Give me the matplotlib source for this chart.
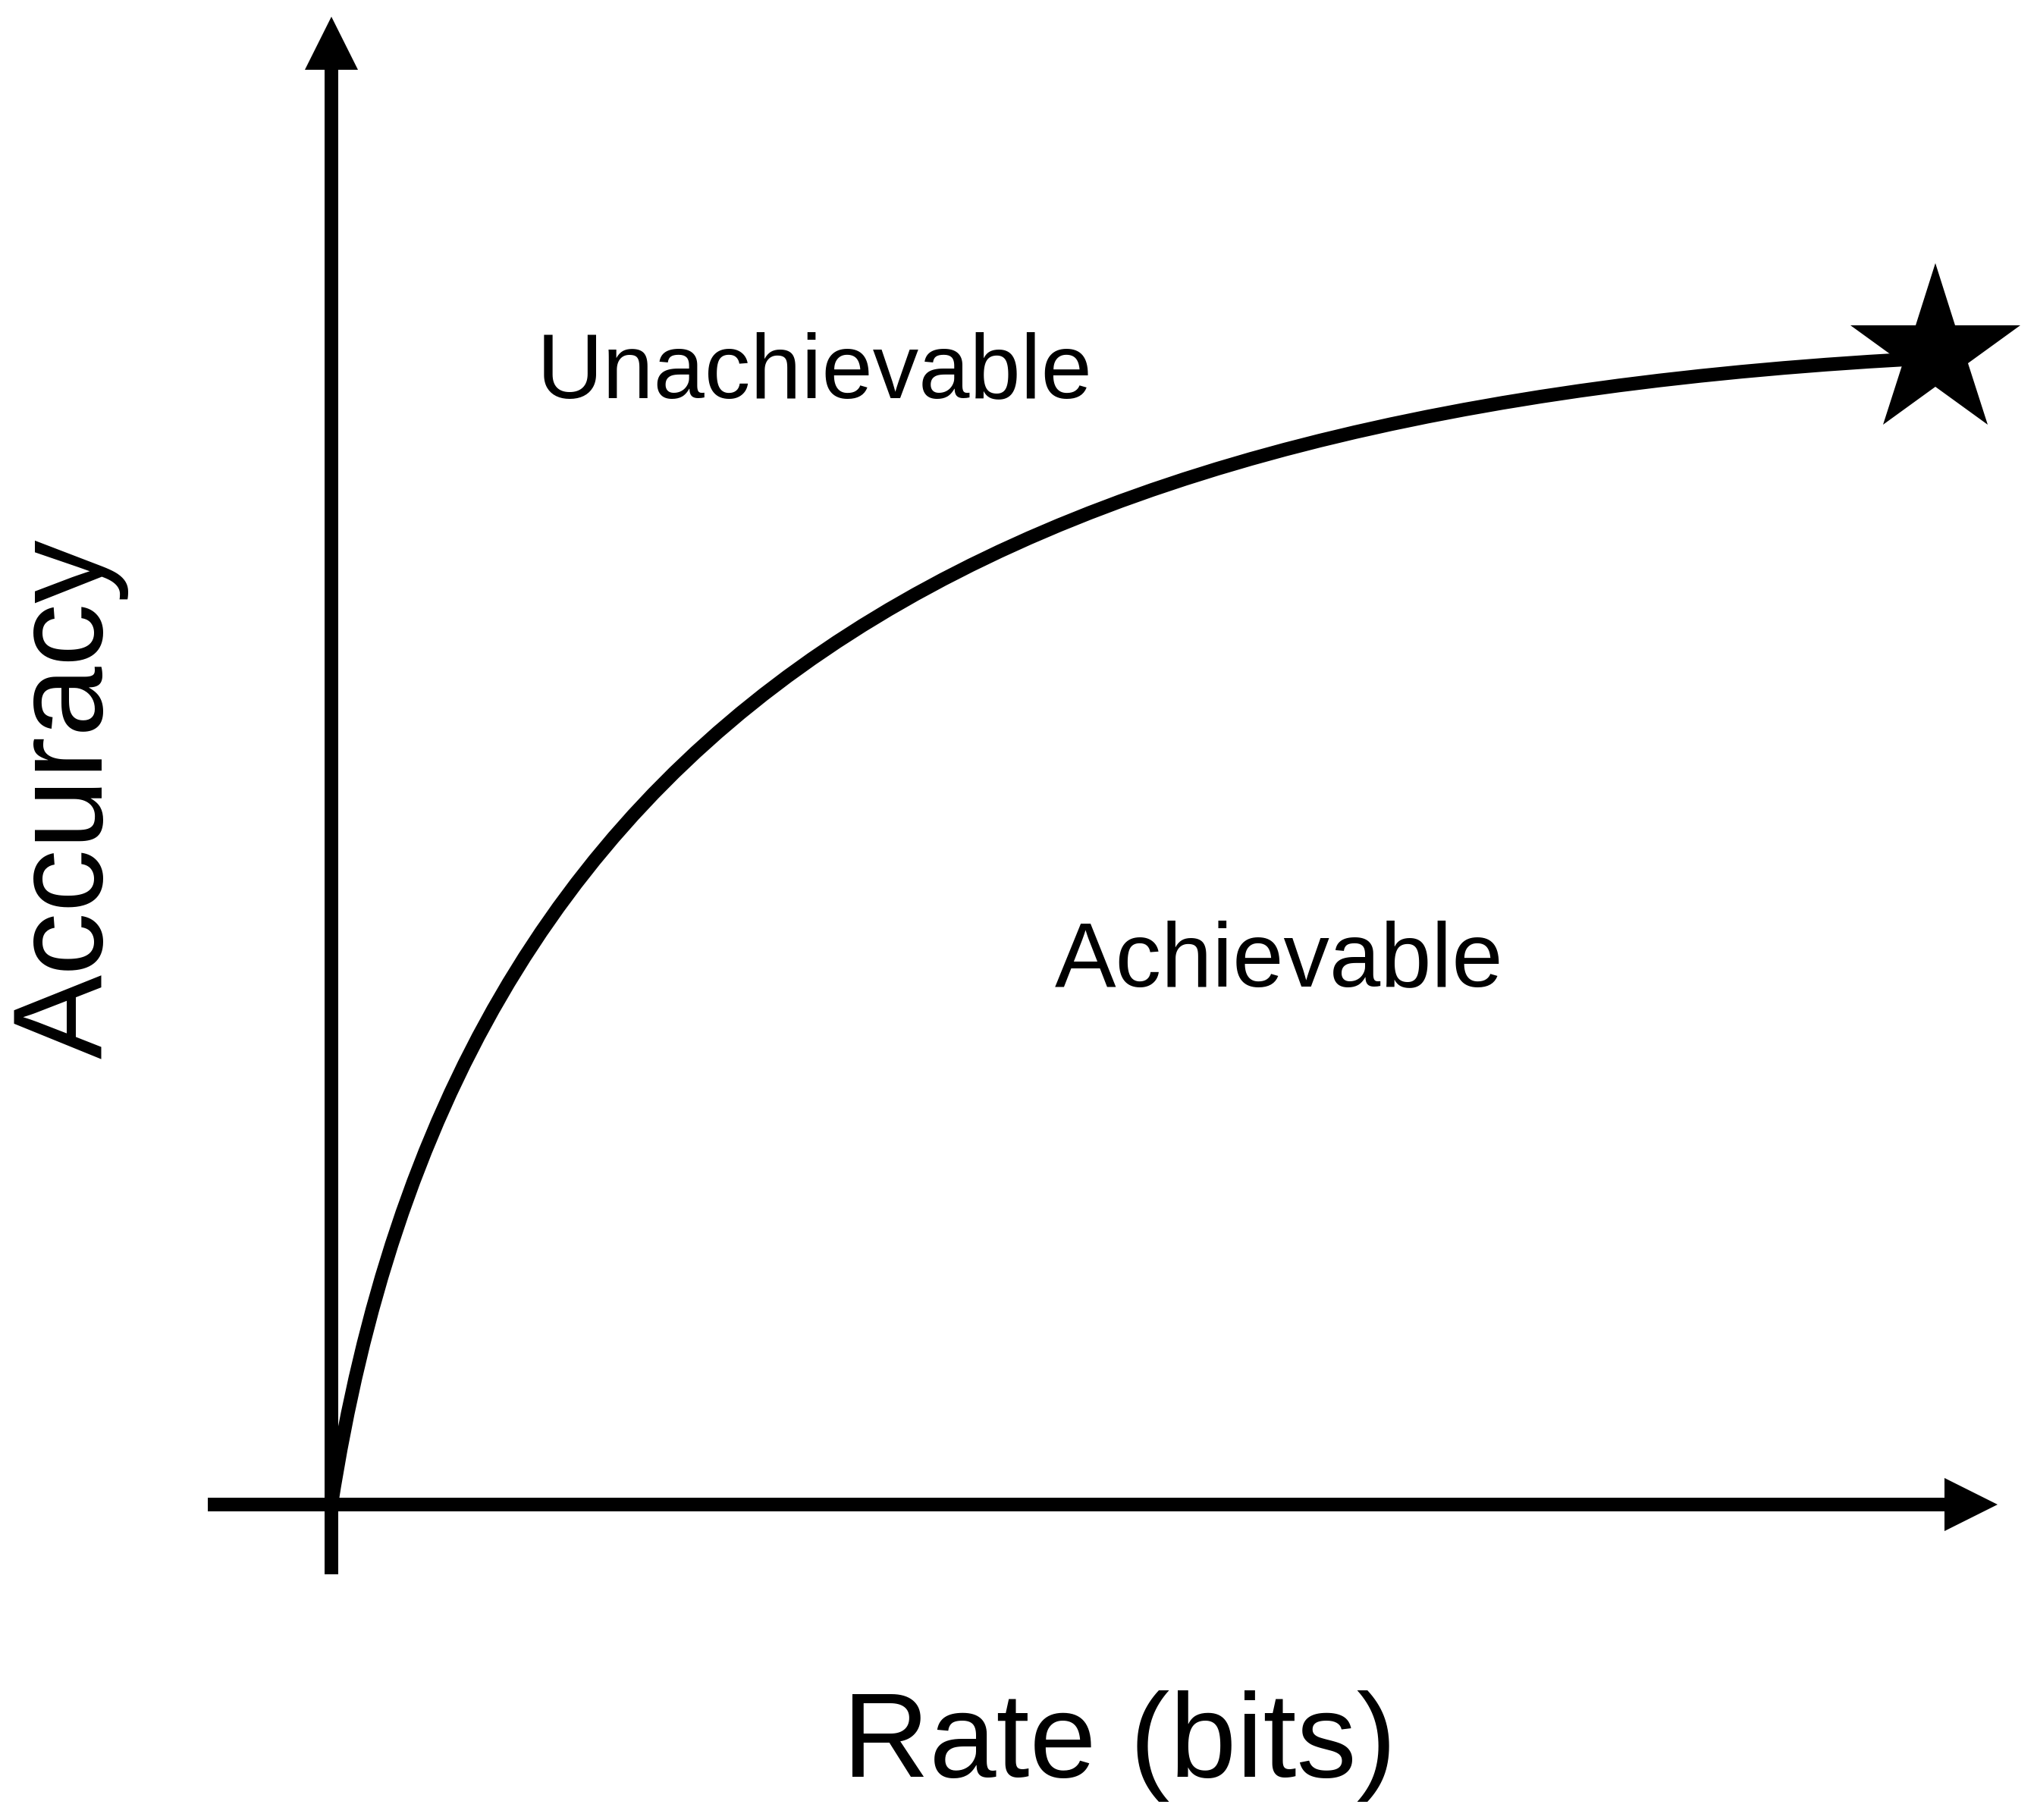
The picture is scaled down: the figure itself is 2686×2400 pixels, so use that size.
import matplotlib
matplotlib.use("Agg")
import matplotlib.pyplot as plt
from matplotlib.path import Path
from matplotlib.patches import PathPatch

plt.rcParams['font.family'] = ['Liberation Sans', 'DejaVu Sans']

# frontier drawn as a cubic bezier (start, two handles, end)
# rate in arbitrary units (star at 10), accuracy 0..1
frontier_rate = [0.0, 0.771, 4.090, 10.0]
frontier_acc = [0.0, 0.6935, 0.9574, 0.9987]

# the ideal point
star_rate = [10.0]
star_acc = [1.003]

region_labels = ["Unachievable", "Achievable"]
region_rate = [3.012, 5.91]
region_acc = [0.9643, 0.4518]

x_label = "Rate (bits)"
y_label = "Accuracy"

# <--------- layout --------->
W, H, DPI = 2686, 2400, 100
XLIM = (-2.066, 10.634)
YLIM = (-0.2748, 1.3104)
LW = 18 * 72 / DPI          # 18 px strokes
HEAD = 70 * 72 / DPI        # arrow head size
STAR = 236 * 72 / DPI


fig = plt.figure(figsize=(W / DPI, H / DPI), dpi=DPI)
ax = fig.add_axes([0, 0, 1, 1])
ax.set_xlim(*XLIM)
ax.set_ylim(*YLIM)
ax.axis("off")

# axes with arrow heads
ax.plot([0, 0], [-0.0608, 1.2725], color="black", lw=LW, solid_capstyle="butt")
ax.plot([0], [1.2725], marker="^", ms=HEAD, color="black", mew=0)
ax.plot([-0.771, 10.222], [0, 0], color="black", lw=LW, solid_capstyle="butt")
ax.plot([10.222], [0], marker=">", ms=HEAD, color="black", mew=0)

# frontier
verts = list(zip(frontier_rate, frontier_acc))
codes = [Path.MOVETO, Path.CURVE4, Path.CURVE4, Path.CURVE4]
curve = PathPatch(Path(verts, codes), facecolor="none", edgecolor="black",
                  lw=LW, capstyle="butt", zorder=3)
ax.add_patch(curve)
ax.plot(star_rate, star_acc, marker="*", ms=STAR, color="black", mew=0, zorder=4)

for txt, xr, ya in zip(region_labels, region_rate, region_acc):
    ax.text(xr, ya, txt, fontsize=87, ha="center", va="baseline")

ax.text(4.913, -0.2371, x_label, fontsize=114, ha="center", va="baseline")
ax.text(-1.428, 0.6149, y_label, fontsize=120, ha="center", va="baseline",
        rotation=90, rotation_mode="anchor")

fig.savefig("out.png", dpi=DPI, facecolor="white")
